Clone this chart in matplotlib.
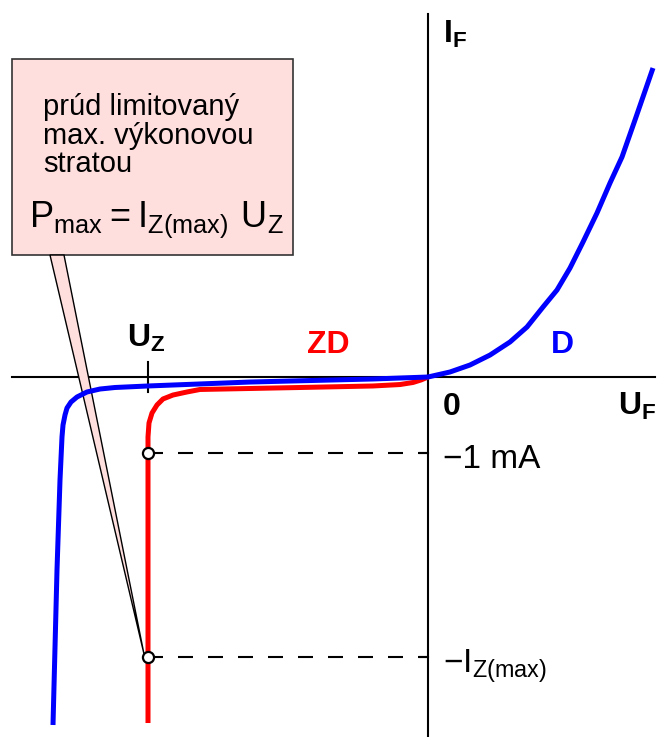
import matplotlib

matplotlib.use("Agg")
import matplotlib.pyplot as plt
from matplotlib.patches import Polygon, Rectangle

plt.rcParams["font.family"] = ["Liberation Sans", "DejaVu Sans"]
plt.rcParams["mathtext.fontset"] = "custom"
plt.rcParams["mathtext.rm"] = "Liberation Sans"
plt.rcParams["mathtext.bf"] = "Liberation Sans:bold"
plt.rcParams["mathtext.default"] = "regular"

# Voltage in V, current in mA (schematic, not to scale)
U_Z = -5.6
IZ_MAX = 3.68
I_TEST = 1.0

# Ordinary diode D: reverse breakdown on the left, forward branch on the right
d_u = [-7.50, -7.42, -7.36, -7.32, -7.30, -7.26, -7.22, -7.14, -7.02, -6.82,
       -6.56, -6.26, -5.60, -3.56, -1.10, 0.00, 0.22, 0.44, 0.84, 1.24,
       1.64, 1.98, 2.30, 2.58, 2.84, 3.10, 3.38, 3.64, 3.88, 4.14,
       4.50]
d_i = [-4.579, -2.539, -1.355, -0.789, -0.632, -0.500, -0.408, -0.329, -0.263, -0.197,
       -0.158, -0.138, -0.118, -0.066, -0.026, 0.000, 0.033, 0.066, 0.158, 0.289,
       0.461, 0.658, 0.921, 1.145, 1.434, 1.776, 2.158, 2.553, 2.895, 3.382,
       4.066]

# Zener diode ZD: reverse branch only, breakdown at U_Z
zd_u = [-5.60, -5.60, -5.58, -5.52, -5.42, -5.30, -5.10, -4.82, -4.56, -2.56,
        -1.10, -0.56, -0.30, -0.14, 0.00]
zd_i = [-4.553, -0.789, -0.605, -0.474, -0.368, -0.289, -0.237, -0.197, -0.164, -0.138,
        -0.118, -0.099, -0.072, -0.039, 0.000]

fig = plt.figure(figsize=(6.63, 7.37), dpi=100)
ax = fig.add_axes([0, 0, 1, 1])
ax.set_xlim(-8.56, 4.70)
ax.set_ylim(-4.737, 4.961)
ax.axis("off")

# coordinate axes
ax.plot([-8.32, 4.54], [0, 0], color="black", lw=1.5, zorder=1)
ax.plot([0, 0], [-4.74, 4.78], color="black", lw=1.5, zorder=1)

# ticks: U_Z on the voltage axis, -1 mA and -I_Z(max) on the current axis
ax.plot([U_Z, U_Z], [-0.2, 0.2], color="black", lw=1.5, zorder=1)
for level in (I_TEST, IZ_MAX):
    ax.plot([-0.16, 0], [-level, -level], color="black", lw=1.5, zorder=1)
    ax.plot([U_Z, 0], [-level, -level], color="black", lw=1.5,
            dashes=(7.2, 7.2), zorder=2)

# callout box with pointer to the I_Z(max) point
box = Rectangle((-8.32, 1.605), 5.62, 2.579, facecolor="#ffdede",
                edgecolor="#333333", lw=1.2, zorder=2)
ax.add_patch(box)
pointer = Polygon([(-7.56, 1.605), (-7.28, 1.605), (-5.68, -3.645)], closed=True,
                  facecolor="#ffdede", edgecolor="black", lw=1.0, zorder=2)
ax.add_patch(pointer)

ax.plot(zd_u, zd_i, color="#ff0000", lw=3.6, solid_joinstyle="round",
        solid_capstyle="butt", zorder=3)
ax.plot(d_u, d_i, color="#0000ff", lw=3.6, solid_joinstyle="round",
        solid_capstyle="butt", zorder=4)

ax.plot([U_Z, U_Z], [-I_TEST, -IZ_MAX], linestyle="none", marker="o", ms=8,
        mfc="white", mec="black", mew=1.6, zorder=5)

# labels
ax.text(0.30, 4.395, r"$I_F$", fontsize=23, fontweight="bold", va="baseline")
ax.text(3.80, -0.5, r"$U_F$", fontsize=23, fontweight="bold", va="baseline")
ax.text(0.30, -0.5, "0", fontsize=23, fontweight="bold", va="baseline")
ax.text(-6.02, 0.395, r"$U_Z$", fontsize=23, fontweight="bold", va="baseline")
ax.text(-2.42, 0.316, "ZD", fontsize=23, fontweight="bold", color="#ff0000",
        va="baseline")
ax.text(2.46, 0.316, "D", fontsize=23, fontweight="bold", color="#0000ff",
        va="baseline")
ax.text(0.30, -1.197, "\u22121 mA", fontsize=24, va="baseline")
ax.text(0.30, -3.895, r"$-I_{Z(max)}$", fontsize=24, va="baseline")

for text, y in [("prúd limitovaný", 3.447), ("max. výkonovou", 3.066),
                ("stratou", 2.697)]:
    ax.text(-7.70, y, text, fontsize=21, va="baseline", zorder=3)
ax.text(-7.98, 1.974, r"$P_{max} = I_{Z(max)}\ U_Z$", fontsize=26,
        va="baseline", zorder=3)

fig.savefig("out.png", dpi=100)
